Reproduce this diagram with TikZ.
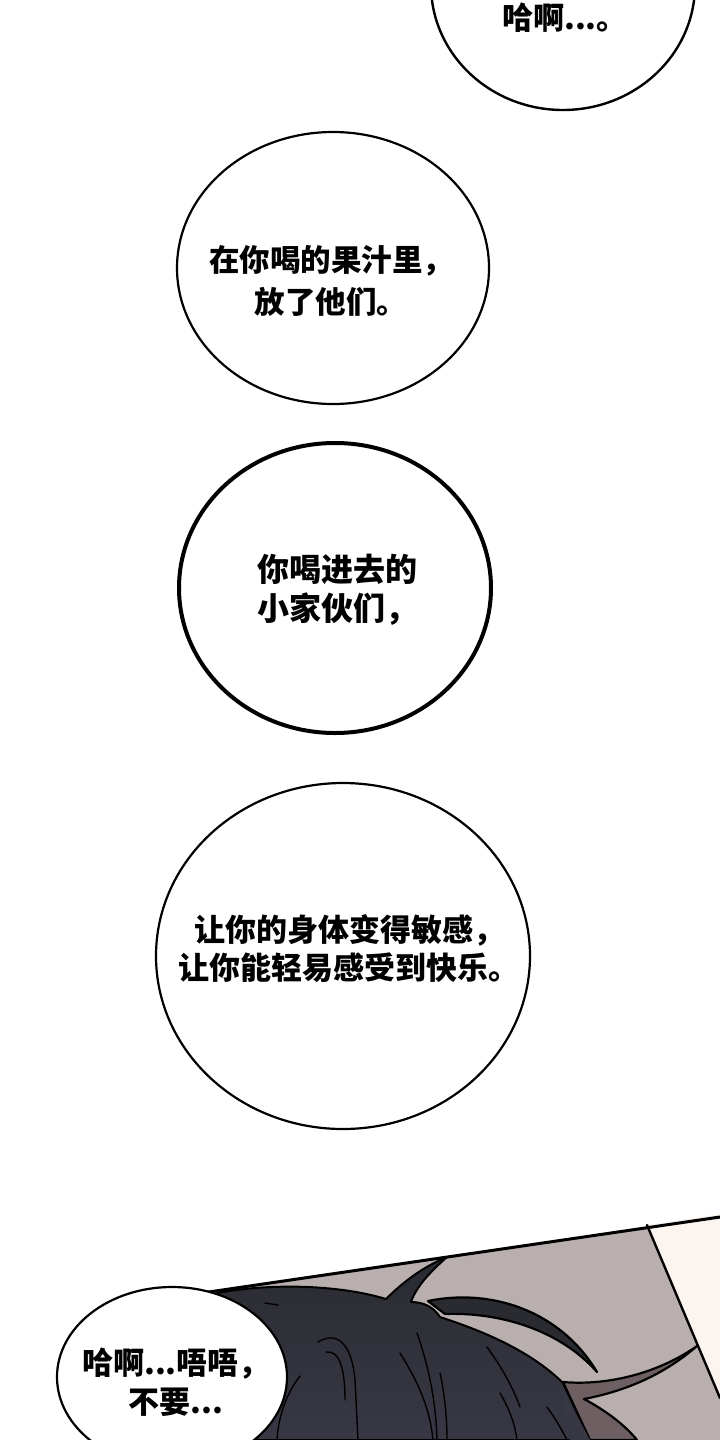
\documentclass[tikz,border=0pt]{standalone}
\usepackage{fontspec}
\newfontfamily\cjk{Noto Sans CJK SC}
\definecolor{wallgrey}{HTML}{B9AFAE}
\definecolor{cream}{HTML}{FCF5EF}
\definecolor{hairdark}{HTML}{2A2B31}
\definecolor{hairlow}{HTML}{373844}
\definecolor{skinshade}{HTML}{6E6062}
\tikzset{
  bubble/.style={fill=white, draw=black, line width=2.2},
  speech/.style={font=\cjk\bfseries\fontsize{31}{40}\selectfont, inner sep=0pt, align=center},
  strand/.style={draw=black, line width=2.2},
  hairline/.style={draw=black, line width=1.4}
}
\begin{document}
\begin{tikzpicture}[x=1pt, y=-1pt, line join=round, line cap=round]
			\clip (0,0) rectangle (720,1440);
			\fill[white] (0,0) rectangle (720,1440);
			\draw[bubble, line width=2.4] (563,-15) ellipse (132 and 125);
			\node[speech] (ha) at (565,18) {哈啊...。};
			\draw[bubble] (333,268) ellipse (156 and 136);
			\node[speech, font=\cjk\bfseries\fontsize{30.5}{42}\selectfont] (juice) at (331,281) {在你喝的果汁里，\\放了他们。};
			\draw[bubble, line width=4] (335,588) ellipse (156 and 145);
			\node[speech, align=left, anchor=west, font=\cjk\bfseries\fontsize{32}{39}\selectfont] (guys) at (257,590) {你喝进去的\\小家伙们，};
			\draw[bubble] (343,956) ellipse (187 and 173);
			\node[speech, font=\cjk\bfseries\fontsize{31}{38}\selectfont] (body) at (349,949) {让你的身体变得敏感，\\让你能轻易感受到快乐。};
			\fill[wallgrey] (195,1294) -- (720,1217) -- (720,1440) -- (215,1440) -- cycle;
			\fill[cream] (647,1225) -- (720,1214) -- (720,1398) -- cycle;
			\draw[line width=2.4] (647,1225) -- (720,1398);
			\shade[top color=hairdark, bottom color=hairlow, draw=black, line width=2] (205,1296) .. controls (250,1284) and (330,1282) .. (386,1299)
				.. controls (405,1280) and (425,1266) .. (447,1257) .. controls (430,1272) and (416,1287) .. (411,1302)
				.. controls (425,1302) and (434,1308) .. (440,1317) .. controls (480,1330) and (530,1350) .. (563,1383)
				-- (590,1440) -- (215,1440) -- cycle;
			\filldraw[hairdark, strand] (428,1301) .. controls (490,1288) and (560,1310) .. (597,1372)
				.. controls (560,1330) and (500,1312) .. (445,1314) -- cycle;
			\filldraw[skinshade, strand] (563,1382) .. controls (610,1386) and (660,1372) .. (697,1346)
				.. controls (660,1378) and (620,1392) .. (584,1399) .. controls (605,1410) and (625,1425) .. (637,1440)
				-- (590,1440) -- cycle;
			\fill[hairlow] (561,1386) -- (590,1440) -- (570,1440) -- cycle;
			\draw[hairline] (318,1342) .. controls (338,1330) and (352,1345) .. (355,1380) -- (358,1440);
			\draw[hairline] (326,1352) .. controls (340,1350) and (345,1370) .. (345,1400);
			\draw[hairline] (300,1376) .. controls (285,1395) and (278,1420) .. (277,1440);
			\draw[hairline] (265,1303) -- (278,1305);
			\draw[hairline] (400,1353) .. controls (420,1385) and (430,1410) .. (433,1440);
			\draw[hairline] (417,1333) .. controls (430,1370) and (436,1405) .. (437,1440);
			\draw[hairline] (440,1373) .. controls (445,1395) and (447,1420) .. (447,1440);
			\draw[hairline] (487,1347) .. controls (500,1365) and (512,1385) .. (520,1407);
			\draw[hairline] (500,1393) .. controls (510,1410) and (515,1425) .. (517,1440);
			\draw[hairline] (547,1407) .. controls (555,1418) and (562,1430) .. (567,1440);
			\draw[line width=3] (195,1294) -- (720,1217);
			\draw[bubble] (172,1377) ellipse (115 and 90);
			\node[speech, font=\cjk\bfseries\fontsize{31}{39}\selectfont] (nomore) at (176,1382) {哈啊...唔唔，\\不要...};
		\end{tikzpicture}
\end{document}
